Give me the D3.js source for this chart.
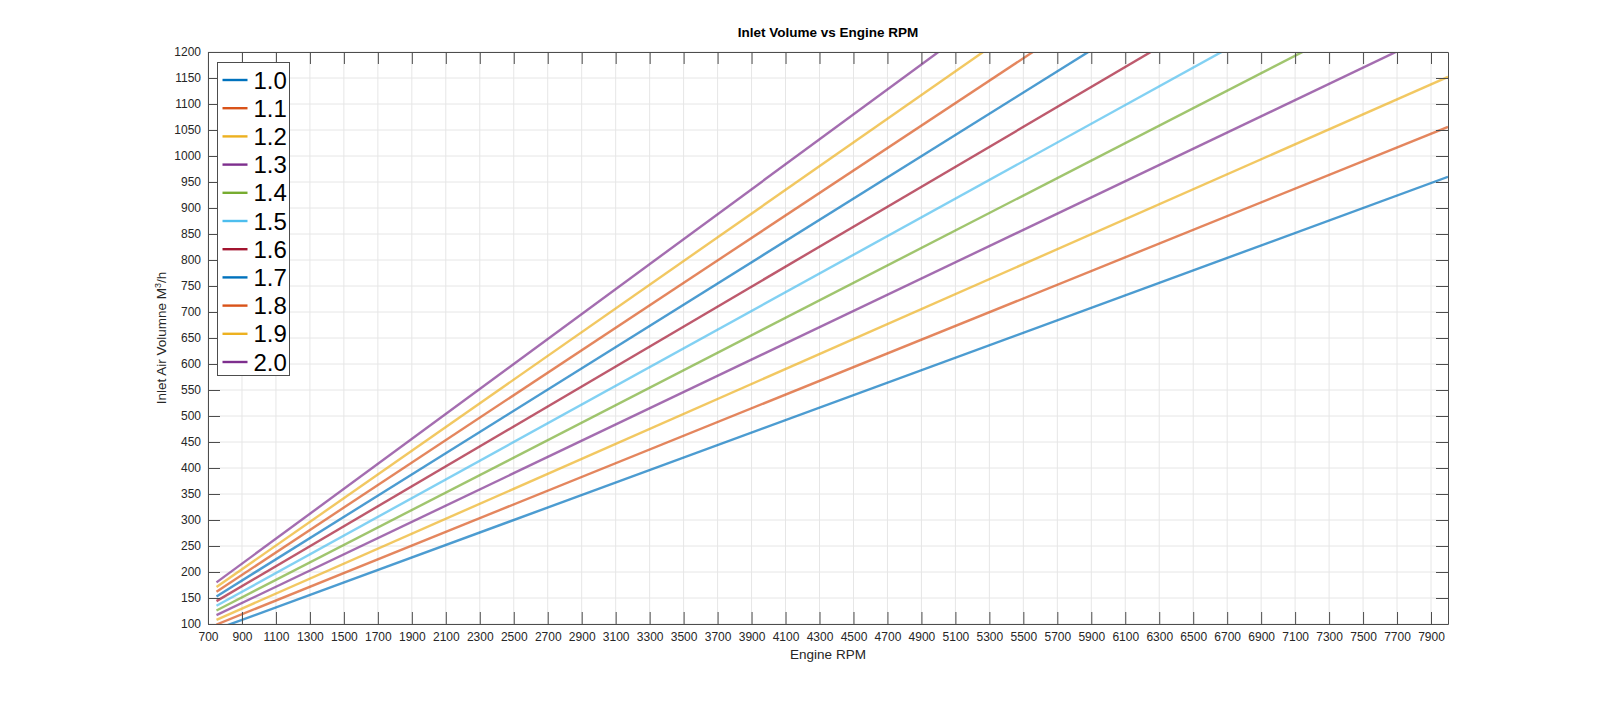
<!DOCTYPE html>
<html>
<head>
<meta charset="utf-8">
<script src="https://cdn.jsdelivr.net/npm/d3@7"></script>
<style>
  body { margin: 0; background: #fff; }
  text { font-family: "Liberation Sans", Arial, sans-serif; }
  .axis path, .axis line { stroke: #4d4d4d; }
  .axis text { fill: #262626; font-size: 12px; }
  .grid line { stroke: #e6e6e6; }
</style>
</head>
<body>
<div class="chart"></div>
<script>
// engine displacement (litres), one line each
var displacements = ["1.0", "1.1", "1.2", "1.3", "1.4", "1.5", "1.6", "1.7", "1.8", "1.9", "2.0"];
// rpm where each line starts and ends
var rpmPoints = [750, 8000];
// inlet volume at those rpm points, per displacement
var volumes = [
    [90, 960],
    [99, 1056],
    [108, 1152],
    [117, 1248],
    [126, 1344],
    [135, 1440],
    [144, 1536],
    [153, 1632],
    [162, 1728],
    [171, 1824],
    [180, 1920]
];
var xTicks = d3.range(700, 8000, 200);
var yTicks = d3.range(100, 1201, 50);
var colors = ["#0072BD", "#D95319", "#EDB120", "#7E2F8E", "#77AC30", "#4DBEEE", "#A2142F"];

var margin = {top: 52, right: 152, bottom: 77, left: 208},
    width = 1600 - margin.left - margin.right,
    height = 701 - margin.top - margin.bottom;

var svg = d3.select(".chart")
    .append("svg")
    .attr("width", 1600)
    .attr("height", 701)
    .append("g")
    .attr("transform", "translate(" + margin.left + "," + margin.top + ")");

var x = d3.scaleLinear().domain([700, 8000]).range([0, width]);
var y = d3.scaleLinear().domain([100, 1200]).range([height, 0]);
var color = function(i) { return colors[i % colors.length]; };

// grid
svg.append("g").attr("class", "grid")
    .selectAll("line").data(xTicks).enter().append("line")
    .attr("x1", function(d) { return x(d); }).attr("x2", function(d) { return x(d); })
    .attr("y1", 0).attr("y2", height);
svg.append("g").attr("class", "grid")
    .selectAll("line").data(yTicks).enter().append("line")
    .attr("y1", function(d) { return y(d); }).attr("y2", function(d) { return y(d); })
    .attr("x1", 0).attr("x2", width);

svg.append("clipPath").attr("id", "clip")
    .append("rect").attr("width", width).attr("height", height);

var line = d3.line()
    .x(function(d) { return x(d[0]); })
    .y(function(d) { return y(d[1]); });

svg.append("g").attr("clip-path", "url(#clip)")
    .selectAll("path").data(volumes).enter().append("path")
    .attr("d", function(v) { return line(rpmPoints.map(function(r, j) { return [r, v[j]]; })); })
    .attr("fill", "none")
    .attr("stroke", function(d, i) { return color(i); })
    .attr("stroke-opacity", 0.7)
    .attr("stroke-width", 2.4);

// axes, ticks inward like matlab
var tl = 12;
svg.append("g").attr("class", "axis")
    .attr("transform", "translate(0," + height + ")")
    .call(d3.axisBottom(x).tickValues(xTicks).tickSizeInner(-tl).tickSizeOuter(0).tickPadding(8).tickFormat(d3.format("d")));
svg.append("g").attr("class", "axis")
    .call(d3.axisTop(x).tickValues(xTicks).tickSizeInner(-tl).tickSizeOuter(0).tickFormat(""));
svg.append("g").attr("class", "axis")
    .call(d3.axisLeft(y).tickValues(yTicks).tickSizeInner(-tl).tickSizeOuter(0).tickPadding(7).tickFormat(d3.format("d")));
svg.append("g").attr("class", "axis")
    .attr("transform", "translate(" + width + ",0)")
    .call(d3.axisRight(y).tickValues(yTicks).tickSizeInner(-tl).tickSizeOuter(0).tickFormat(""));
svg.selectAll(".axis .domain").attr("stroke", "#4d4d4d");

// title and labels
svg.append("text")
    .attr("x", width / 2).attr("y", -15)
    .attr("text-anchor", "middle")
    .style("font-size", "13.5px").style("font-weight", "bold")
    .text("Inlet Volume vs Engine RPM");

svg.append("text")
    .attr("x", width / 2).attr("y", height + 35)
    .attr("text-anchor", "middle")
    .style("font-size", "13.5px").style("fill", "#262626")
    .text("Engine RPM");

var yl = svg.append("text")
    .attr("transform", "rotate(-90)")
    .attr("x", -height / 2).attr("y", -42)
    .attr("text-anchor", "middle")
    .style("font-size", "13.5px").style("fill", "#262626");
yl.append("tspan").text("Inlet Air Volumne M");
yl.append("tspan").attr("dy", -5).style("font-size", "9px").text("3");
yl.append("tspan").attr("dy", 5).text("/h");

// legend
var lg = svg.append("g").attr("transform", "translate(9.5,10.5)");
lg.append("rect")
    .attr("width", 72).attr("height", 313)
    .attr("fill", "#fff").attr("stroke", "#4d4d4d");
var item = lg.selectAll(".item").data(displacements).enter().append("g")
    .attr("transform", function(d, i) { return "translate(0," + (17.5 + i * 28.2) + ")"; });
item.append("line")
    .attr("x1", 5).attr("x2", 30)
    .attr("stroke", function(d, i) { return color(i); })
    .attr("stroke-width", 2.4);
item.append("text")
    .attr("x", 36).attr("dy", "0.36em")
    .style("font-size", "24px")
    .text(function(d) { return d; });
</script>
</body>
</html>
